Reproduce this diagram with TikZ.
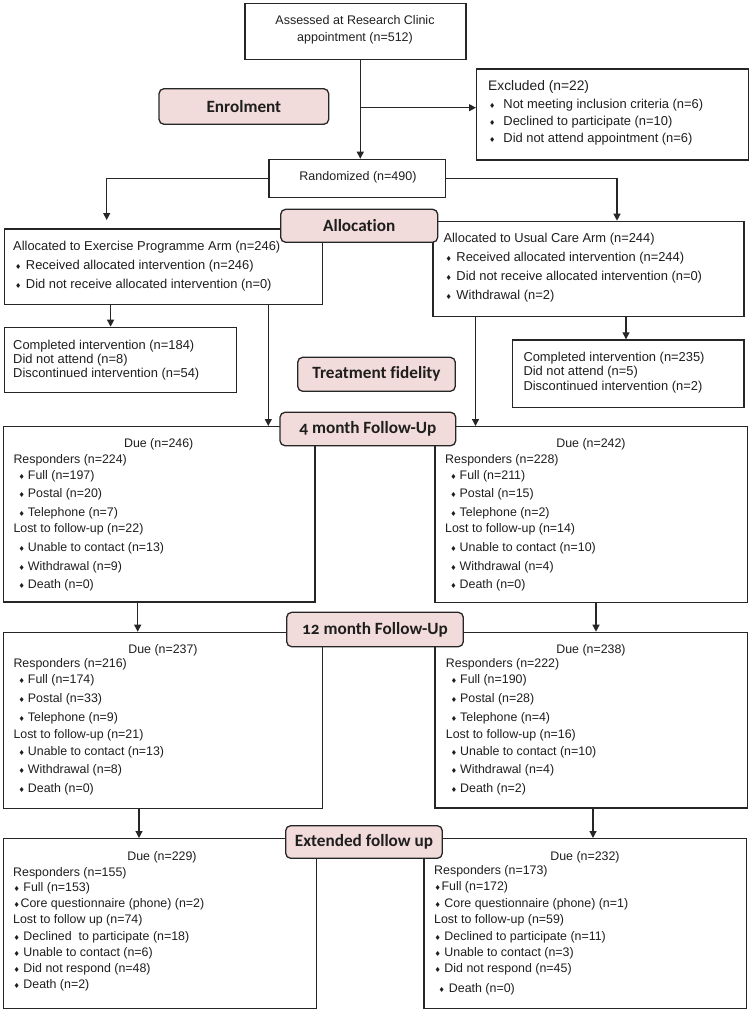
\documentclass[tikz,border=0pt]{standalone}
\usepackage{fontspec}
\setmainfont{Liberation Sans}
\newfontfamily\labfont{Carlito}[Numbers=OldStyle,Ligatures={NoCommon,NoContextual}]
\newfontfamily\dejavu{DejaVu Sans}
\usetikzlibrary{arrows.meta}
\definecolor{pinkfill}{HTML}{F2DCDB}
\definecolor{edge}{HTML}{262626}
\definecolor{ink}{HTML}{1E1E1E}
\newcommand\bl{{\dejavu\fontsize{7}{7}\selectfont ♦}}
\newcommand\bp[1][3.5pt]{\bl\hspace{#1}}
\newcommand\bx[5]{\node[box, minimum width={#4-#2}, minimum height={#5-#3}] (#1) at (#2,#3) {};}
\newcommand\lb[6]{\node[lab, minimum width={#4-#2}, minimum height={#5-#3}] (#1) at ({(#2+#4)/2},{(#3+#5)/2}) {#6};}
\begin{document}
\begin{tikzpicture}[x=1pt,y=-1pt,
  box/.style={draw=edge, line width=1.2pt, rectangle, inner sep=0pt, anchor=north west},
  lab/.style={draw=edge, fill=pinkfill, line width=1.3pt, rounded corners=5pt, inner sep=0pt, text=ink,
    font=\labfont\bfseries\fontsize{17.2}{20}\selectfont},
  t/.style={inner sep=0pt, anchor=west, text=ink, font=\fontsize{12.4}{15}\selectfont},
  tb/.style={t, font=\fontsize{12.9}{15}\selectfont},
  due/.style={t, anchor=center},
  arr/.style={draw=edge, line width=1.2pt, -{Triangle[length=7pt,width=7pt]}}]
\useasboundingbox (0,0) rectangle (750,1012);

% ---------- boxes ----------
\bx{A}{244.3}{3}{465.4}{59}
\bx{X}{476}{68.3}{747.6}{159.3}
\bx{R}{268.3}{158.7}{445}{196.7}
\bx{EX}{3.8}{228.3}{321.7}{304}
\bx{UC}{432.3}{220.7}{743.3}{316}
\bx{CL}{3.8}{326.7}{235.6}{391.7}
\bx{CR}{512}{339.3}{743.3}{406.7}
\bx{F4L}{2.7}{426}{314.3}{601.3}
\bx{F4R}{434.3}{426}{746.7}{601.7}
\bx{F12L}{3}{631.7}{322}{807.7}
\bx{F12R}{434.3}{631.7}{746.7}{807.3}
\bx{FEL}{3}{838}{315.5}{1008}
\bx{FER}{423.3}{838}{746}{1008}

% ---------- texts ----------
\node[t, anchor=center, align=center, font=\fontsize{12.5}{17}\selectfont] (At) at (355,29.5)
  {Assessed at Research Clinic\\appointment (n=512)};
\node[t, font=\fontsize{13.8}{16}\selectfont] (Xh) at (488,87.3) {Excluded (n=22)};
\foreach \yy/\ss [count=\i] in {105.3/Not meeting inclusion criteria (n=6),
  122/Declined to participate (n=10), 138.7/Did not attend appointment (n=6)}
  \node[tb] (X-\i) at (489,\yy) {\bp[8pt]\ss};
\node[t, anchor=center, font=\fontsize{12.5}{15}\selectfont] (Rt) at (358,177.7) {Randomized (n=490)};

\node[tb] (EX-0) at (13,246.7) {Allocated to Exercise Programme Arm (n=246)};
\foreach \yy/\ss [count=\i] in {266/Received allocated intervention (n=246),
  284.7/Did not receive allocated intervention (n=0)}
  \node[tb] (EX-\i) at (15,\yy) {\bp[4.5pt]\ss};

\node[tb] (UC-0) at (443.3,239.3) {Allocated to Usual Care Arm (n=244)};
\foreach \yy/\ss [count=\i] in {258.3/Received allocated intervention (n=244),
  277.3/Did not receive allocated intervention (n=0), 296/Withdrawal (n=2)}
  \node[tb] (UC-\i) at (445.5,\yy) {\bp[4.5pt]\ss};

\foreach \yy/\ss [count=\i] in {345.7/Completed intervention (n=184),
  360/Did not attend (n=8), 374.3/Discontinued intervention (n=54)}
  \node[tb] (CL-\i) at (13,\yy) {\ss};
\foreach \yy/\ss [count=\i] in {358/Completed intervention (n=235),
  372.3/Did not attend (n=5), 386.7/Discontinued intervention (n=2)}
  \node[tb] (CR-\i) at (523.3,\yy) {\ss};

% 4 month
\node[due] (F4L-0) at (158.7,444.3) {Due (n=246)};
\foreach \xx/\yy/\ss [count=\i] in {
  13.3/460/Responders (n=224), 18.5/476/\bp[3pt]Full (n=197), 18.5/494.7/\bp[3pt]Postal (n=20),
  18.5/513.3/\bp[3pt]Telephone (n=7), 13.3/529/Lost to follow-up (n=22),
  18.5/548.7/\bp[3pt]Unable to contact (n=13), 18.5/567.3/\bp[3pt]Withdrawal (n=9),
  18.5/585.7/\bp[3pt]Death (n=0)}
  \node[t] (F4L-\i) at (\xx,\yy) {\ss};
\node[due] (F4R-0) at (591,444.3) {Due (n=242)};
\foreach \xx/\yy/\ss [count=\i] in {
  445/460/Responders (n=228), 450.2/476/\bp[3pt]Full (n=211), 450.2/494.7/\bp[3pt]Postal (n=15),
  450.2/513.3/\bp[3pt]Telephone (n=2), 445/529/Lost to follow-up (n=14),
  450.2/548.7/\bp[3pt]Unable to contact (n=10), 450.2/567.3/\bp[3pt]Withdrawal (n=4),
  450.2/585.7/\bp[3pt]Death (n=0)}
  \node[t] (F4R-\i) at (\xx,\yy) {\ss};

% 12 month
\node[due] (F12L-0) at (163,650) {Due (n=237)};
\foreach \xx/\yy/\ss [count=\i] in {
  13.3/664.7/Responders (n=216), 18.5/680.3/\bp[3pt]Full (n=174), 18.5/699.7/\bp[3pt]Postal (n=33),
  18.5/718.3/\bp[3pt]Telephone (n=9), 13.3/735/Lost to follow-up (n=21),
  18.5/752/\bp[3pt]Unable to contact (n=13), 18.5/770.7/\bp[3pt]Withdrawal (n=8),
  18.5/789.3/\bp[3pt]Death (n=0)}
  \node[t] (F12L-\i) at (\xx,\yy) {\ss};
\node[due] (F12R-0) at (591,650) {Due (n=238)};
\foreach \xx/\yy/\ss [count=\i] in {
  445.7/664.7/Responders (n=222), 450.7/680.3/\bp[3pt]Full (n=190), 450.7/699.7/\bp[3pt]Postal (n=28),
  450.7/718.3/\bp[3pt]Telephone (n=4), 445.7/735/Lost to follow-up (n=16),
  450.7/752/\bp[3pt]Unable to contact (n=10), 450.7/770.7/\bp[3pt]Withdrawal (n=4),
  450.7/789.3/\bp[3pt]Death (n=2)}
  \node[t] (F12R-\i) at (\xx,\yy) {\ss};

% extended
\node[due] (FEL-0) at (162,857) {Due (n=229)};
\foreach \xx/\yy/\ss [count=\i] in {
  13/873/Responders (n=155), 13.5/888/\bp[3.5pt]Full (n=153),
  13.5/904/\bp[0.6pt]Core questionnaire (phone) (n=2), 13/920/Lost to follow up (n=74),
  13.5/937/\bp[3.5pt]Declined\ \ to participate (n=18), 13.5/953/\bp[3.5pt]Unable to contact (n=6),
  13.5/969/\bp[3.5pt]Did not respond (n=48), 13.5/985/\bp[3.5pt]Death (n=2)}
  \node[t] (FEL-\i) at (\xx,\yy) {\ss};
\node[due] (FER-0) at (585,857) {Due (n=232)};
\foreach \xx/\yy/\ss [count=\i] in {
  434/871/Responders (n=173), 434.5/887/\bp[0.6pt]Full (n=172),
  434.5/904/\bp[3.5pt]Core questionnaire (phone) (n=1), 434/920/Lost to follow-up (n=59),
  434.5/937/\bp[3.5pt]Declined to participate (n=11), 434.5/953/\bp[3.5pt]Unable to contact (n=3),
  434.5/969/\bp[3.5pt]Did not respond (n=45), 438.5/989/\bp[4pt]Death (n=0)}
  \node[t] (FER-\i) at (\xx,\yy) {\ss};

% ---------- connectors ----------
\coordinate (j1) at (360.3,107.7);
\draw[arr] (A.south -| j1) -- (R.north -| j1);
\draw[arr] (j1) -- (X.west |- j1);
\coordinate (aL) at (106.7,220);
\draw[arr] (R.west) -| (aL);
\coordinate (aRx) at (617,0);
\draw[arr] (R.east) -| (UC.north -| aRx);
\coordinate (c1) at (110.6,0);
\coordinate (c2) at (268.3,0);
\coordinate (c3) at (626,0);
\coordinate (c4) at (475.5,0);
\coordinate (c5) at (137.7,0);
\coordinate (c6) at (596,0);
\coordinate (c7) at (139,0);
\coordinate (c8) at (593,0);
\draw[arr] (EX.south -| c1) -- (CL.north -| c1);
\draw[arr] (EX.south -| c2) -- (F4L.north -| c2);
\draw[arr] (UC.south -| c3) -- (CR.north -| c3);
\draw[arr] (UC.south -| c4) -- (F4R.north -| c4);
\draw[arr] (F4L.south -| c5) -- (F12L.north -| c5);
\draw[arr] (F4R.south -| c6) -- (F12R.north -| c6);
\draw[arr] (F12L.south -| c7) -- (FEL.north -| c7);
\draw[arr] (F12R.south -| c8) -- (FER.north -| c8);

% ---------- stage labels ----------
\lb{L1}{159}{88.7}{328.7}{124.3}{Enrolment}
\lb{L2}{280.7}{209.3}{437.7}{242.3}{Allocation}
\lb{L3}{297.7}{357.3}{455.3}{391.3}{Treatment fidelity}
\lb{L4}{280}{412.3}{455.7}{445.7}{4 month Follow-Up}
\lb{L5}{286.7}{612.3}{463.3}{646.7}{12 month Follow-Up}
\lb{L6}{285.7}{825.7}{442.3}{858.3}{Extended follow up}
\end{tikzpicture}
\end{document}
